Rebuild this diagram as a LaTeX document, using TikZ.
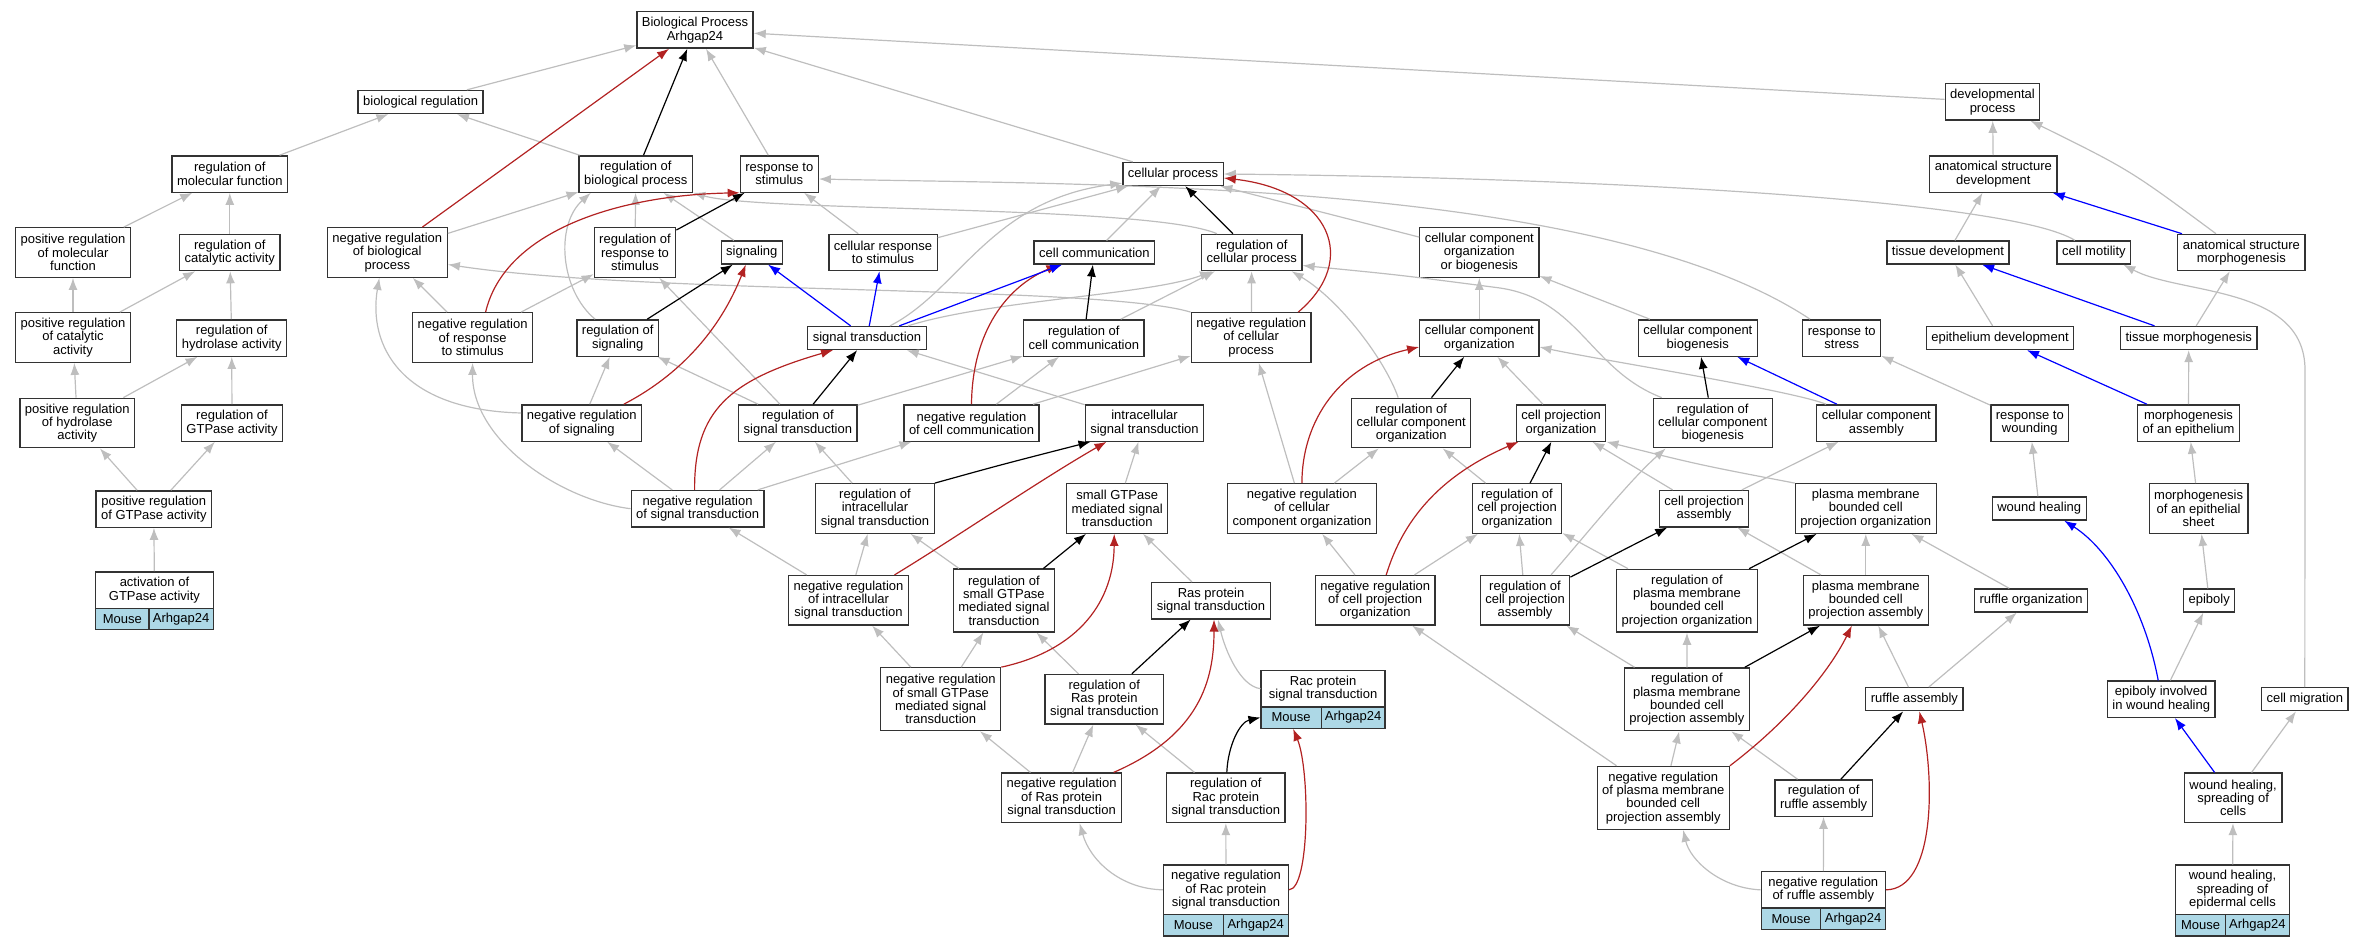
\documentclass[tikz,border=0pt]{standalone}
\usepackage{fontspec}
\setmainfont{Liberation Sans}
\usetikzlibrary{arrows.meta}
\definecolor{isagray}{RGB}{190,190,190}
\definecolor{negred}{RGB}{178,34,34}
\definecolor{partblue}{RGB}{0,0,255}
\definecolor{genefill}{RGB}{173,216,230}

\begin{document}
\begin{tikzpicture}[x=1pt, y=-1pt,
  term/.style={draw=black!80, line width=1.3pt, fill=white, align=center, inner xsep=5pt, inner ysep=0pt, font=\fontsize{13}{13.3}\selectfont},
  box1/.style={term, minimum height=23pt},
  box2/.style={term, minimum height=36.3pt},
  box3/.style={term, minimum height=49.5pt},
  box4/.style={term, minimum height=62.8pt},
  gene/.style={term, fill=genefill, minimum height=21.3pt, inner xsep=0pt},
  isa/.style={draw=isagray, line width=1.2pt, -{Latex[length=12pt,width=9pt]}},
  reg/.style={isa, draw=black},
  negreg/.style={isa, draw=negred},
  partof/.style={isa, draw=partblue}]
  \useasboundingbox (0,0) rectangle (2363,947);

  \node[box2] (root) at (695,30) {Biological Process\\Arhgap24};
  \node[box1] (bioreg) at (420.6,102) {biological regulation};
  \node[box2] (devproc) at (1992.5,102) {developmental\\process};

  \node[box2] (regmol) at (229.8,174) {regulation of\\molecular function};
  \node[box2] (regbio) at (635.8,174) {regulation of\\biological process};
  \node[box2] (respstim) at (779.3,174) {response to\\stimulus};
  \node[box1] (cellproc) at (1173,174) {cellular process};
  \node[box2] (asdev) at (1993.3,174) {anatomical structure\\development};

  \node[box3] (posmol) at (73,252.5) {positive regulation\\of molecular\\function};
  \node[box2] (regcat) at (229.8,252.5) {regulation of\\catalytic activity};
  \node[box3] (negbio) at (387.3,252.5) {negative regulation\\of biological\\process};
  \node[box3] (regresp) at (635,252.5) {regulation of\\response to\\stimulus};
  \node[box1] (signaling) at (751.8,252.5) {signaling};
  \node[box2] (cellresp) at (883,252.5) {cellular response\\to stimulus};
  \node[box1] (cellcomm) at (1094.4,252.5) {cell communication};
  \node[box2] (regcell) at (1251.8,252.5) {regulation of\\cellular process};
  \node[box3] (ccob) at (1479.3,252.5) {cellular component\\organization\\or biogenesis};
  \node[box1] (tissdev) at (1947.9,252.5) {tissue development};
  \node[box1] (cellmot) at (2093.9,252.5) {cell motility};
  \node[box2] (asmorph) at (2241.3,252.5) {anatomical structure\\morphogenesis};

  \node[box3] (poscat) at (73,337.5) {positive regulation\\of catalytic\\activity};
  \node[box2] (reghyd) at (231.7,338) {regulation of\\hydrolase activity};
  \node[box3] (negresp) at (472.6,337.5) {negative regulation\\of response\\to stimulus};
  \node[box2] (regsig) at (617.7,338) {regulation of\\signaling};
  \node[box1] (sigtrans) at (867,338) {signal transduction};
  \node[box2] (regcomm) at (1083.8,338) {regulation of\\cell communication};
  \node[box3] (negcell) at (1251.2,337.5) {negative regulation\\of cellular\\process};
  \node[box2] (cco) at (1479.3,338) {cellular component\\organization};
  \node[box2] (ccb) at (1697.8,338) {cellular component\\biogenesis};
  \node[box2] (respstress) at (1841.7,338) {response to\\stress};
  \node[box1] (epidev) at (2000,338) {epithelium development};
  \node[box1] (tissmorph) at (2188.7,338) {tissue morphogenesis};

  \node[box3] (poshyd) at (77.3,423) {positive regulation\\of hydrolase\\activity};
  \node[box2] (reggtp) at (232,423) {regulation of\\GTPase activity};
  \node[box2] (negsig) at (581.8,423) {negative regulation\\of signaling};
  \node[box2] (regst) at (797.9,423) {regulation of\\signal transduction};
  \node[box2] (negcomm) at (971.5,423) {negative regulation\\of cell communication};
  \node[box2] (intra) at (1144.5,423) {intracellular\\signal transduction};
  \node[box3] (regcco) at (1411.2,423) {regulation of\\cellular component\\organization};
  \node[box2] (cpo) at (1561,423) {cell projection\\organization};
  \node[box3] (regccb) at (1712.7,423) {regulation of\\cellular component\\biogenesis};
  \node[box2] (ccasm) at (1876.3,423) {cellular component\\assembly};
  \node[box2] (respwound) at (2029.8,423) {response to\\wounding};
  \node[box2] (morphepi) at (2188.5,423) {morphogenesis\\of an epithelium};

  \node[box2] (posgtp) at (153.8,509) {positive regulation\\of GTPase activity};
  \node[box2] (negst) at (697.6,508.7) {negative regulation\\of signal transduction};
  \node[box3] (regintra) at (875,508.5) {regulation of\\intracellular\\signal transduction};
  \node[box3] (smallgtp) at (1117.2,508.5) {small GTPase\\mediated signal\\transduction};
  \node[box3] (negcco) at (1301.9,508.5) {negative regulation\\of cellular\\component organization};
  \node[box3] (regcpo) at (1517,508.5) {regulation of\\cell projection\\organization};
  \node[box2] (cpa) at (1704,508.7) {cell projection\\assembly};
  \node[box3] (pmbcpo) at (1865.8,508.5) {plasma membrane\\bounded cell\\projection organization};
  \node[box1] (woundheal) at (2039.2,508.5) {wound healing};
  \node[box3] (morphsheet) at (2198.6,508.5) {morphogenesis\\of an epithelial\\sheet};

  \node[box2, minimum width=117.5pt] (actgtp) at (154.45,590) {activation of\\GTPase activity};
  \node[gene, minimum width=53.2pt] (actgtpM) at (122.3,618.8) {Mouse};
  \node[gene, minimum width=64.3pt] (actgtpG) at (181.05,618.8) {Arhgap24};
  \node[box3] (negintra) at (848.5,600.3) {negative regulation\\of intracellular\\signal transduction};
  \node[box4] (regsmall) at (1003.9,600.5) {regulation of\\small GTPase\\mediated signal\\transduction};
  \node[box2] (rasst) at (1211,600.7) {Ras protein\\signal transduction};
  \node[box3] (negcpo) at (1375.2,600.3) {negative regulation\\of cell projection\\organization};
  \node[box3] (regcpa) at (1525,600.3) {regulation of\\cell projection\\assembly};
  \node[box4] (regpmbcpo) at (1687,600.7) {regulation of\\plasma membrane\\bounded cell\\projection organization};
  \node[box3] (pmbcpa) at (1865.8,600.3) {plasma membrane\\bounded cell\\projection assembly};
  \node[box1] (ruforg) at (2031.1,600.5) {ruffle organization};
  \node[box1] (epiboly) at (2209.2,600.5) {epiboly};

  \node[box4] (negsmall) at (940.7,699.2) {negative regulation\\of small GTPase\\mediated signal\\transduction};
  \node[box3] (regras) at (1104.3,699.2) {regulation of\\Ras protein\\signal transduction};
  \node[box2, minimum width=124pt] (racst) at (1323.1,688.7) {Rac protein\\signal transduction};
  \node[gene, minimum width=60.1pt] (racstM) at (1291.15,717.5) {Mouse};
  \node[gene, minimum width=63.9pt] (racstG) at (1353.15,717.5) {Arhgap24};
  \node[box4] (regpmbcpa) at (1686.9,699.3) {regulation of\\plasma membrane\\bounded cell\\projection assembly};
  \node[box1] (rufasm) at (1914.4,699.2) {ruffle assembly};
  \node[box2] (epiwound) at (2161.2,699.2) {epiboly involved\\in wound healing};
  \node[box1] (cellmig) at (2304.8,699.2) {cell migration};

  \node[box3] (negras) at (1061.6,797.8) {negative regulation\\of Ras protein\\signal transduction};
  \node[box3] (regrac) at (1225.8,797.8) {regulation of\\Rac protein\\signal transduction};
  \node[box4] (negpmbcpa) at (1663.2,797.8) {negative regulation\\of plasma membrane\\bounded cell\\projection assembly};
  \node[box2] (regruf) at (1823.6,798) {regulation of\\ruffle assembly};
  \node[box3] (whsc) at (2233.1,797.8) {wound healing,\\spreading of\\cells};

  \node[box3, minimum width=124.7pt] (negrac) at (1225.95,889.8) {negative regulation\\of Rac protein\\signal transduction};
  \node[gene, minimum width=59.6pt] (negracM) at (1193.4,925.2) {Mouse};
  \node[gene, minimum width=65.1pt] (negracG) at (1255.75,925.2) {Arhgap24};
  \node[box2, minimum width=124.2pt] (negruf) at (1823.3,889.85) {negative regulation\\of ruffle assembly};
  \node[gene, minimum width=59.6pt] (negrufM) at (1791,918.65) {Mouse};
  \node[gene, minimum width=64.6pt] (negrufG) at (1853.1,918.65) {Arhgap24};
  \node[box3, minimum width=113.4pt] (whsec) at (2232.5,889.8) {wound healing,\\spreading of\\epidermal cells};
  \node[gene, minimum width=49.6pt] (whsecM) at (2200.6,925.2) {Mouse};
  \node[gene, minimum width=63.8pt] (whsecG) at (2257.3,925.2) {Arhgap24};

  \draw[isa] (bioreg) -- (root);
  \draw[isa] (devproc) -- (root);
  \draw[isa] (respstim) -- (root);
  \draw[isa] (cellproc) -- (root);
  \draw[isa] (regmol) -- (bioreg);
  \draw[isa] (regbio) -- (bioreg);
  \draw[isa] (asdev) -- (devproc);
  \draw[isa] (asmorph) .. controls (2130,170) .. (devproc);
  \draw[isa] (posmol) -- (regmol);
  \draw[isa] (regcat) -- (regmol);
  \draw[isa] (negbio) -- (regbio);
  \draw[isa] (regresp) -- (regbio);
  \draw[isa] (regsig) .. controls (560,290) and (555,225) .. ([xshift=-45pt]regbio.south);
  \draw[isa] (signaling) -- (regbio);
  \draw[isa] ([xshift=16pt]regcell.north west) .. controls (1150,205) and (760,212) .. (regbio.south east);
  \draw[isa] (cellresp) -- (respstim);
  \draw[isa] ([xshift=8pt]respstress.north west) .. controls (1600,180) and (1100,185) .. ([yshift=-5pt]respstim.east);
  \draw[isa] ([xshift=23pt]sigtrans.north) .. controls (960,290) and (990,200) .. ([yshift=3pt]cellproc.south west);
  \draw[isa] (cellresp) -- (cellproc);
  \draw[isa] (cellcomm) -- (cellproc);
  \draw[isa] (ccob) -- (cellproc);
  \draw[isa] ([xshift=-19pt]cellmot.north) .. controls (2010,200) and (1600,178) .. (cellproc.east);
  \draw[isa] (tissdev) -- (asdev);
  \draw[isa] (poscat) -- (posmol);
  \draw[isa] (poscat) -- (regcat);
  \draw[isa] (reghyd) -- (regcat);
  \draw[isa] (negresp) -- (negbio);
  \draw[isa] ([yshift=10pt]negsig.west) .. controls (400,410) and (368,345) .. ([xshift=-8pt]negbio.south);
  \draw[isa] (negcell.north west) .. controls (1100,285) and (650,295) .. ([yshift=-12pt]negbio.east);
  \draw[isa] (negresp) -- (regresp);
  \draw[isa] (regst) -- (regresp);
  \draw[isa] (negcell) -- (regcell);
  \draw[isa] (regcomm) -- (regcell);
  \draw[isa] ([xshift=41pt]sigtrans.north) .. controls (990,300) and (1150,295) .. ([xshift=11pt]regcell.south west);
  \draw[isa] ([xshift=-13pt]regcco.north) .. controls (1385,360) and (1340,300) .. ([xshift=-11pt]regcell.south east);
  \draw[isa] ([xshift=-51pt]regccb.north) .. controls (1590,370) and (1580,300) .. (1500,288) .. controls (1400,275) .. ([yshift=-13pt]regcell.east);
  \draw[isa] (cco) -- (ccob);
  \draw[isa] (ccb) -- (ccob);
  \draw[isa] (epidev) -- (tissdev);
  \draw[isa] (cellmig.north) -- (2305,370) .. controls (2305,285) and (2180,295) .. ([xshift=-8pt]cellmot.south east);
  \draw[isa] (tissmorph) -- (asmorph);
  \draw[isa] (poshyd) -- (poscat);
  \draw[isa] (poshyd) -- (reghyd);
  \draw[isa] (reggtp) -- (reghyd);
  \draw[isa] (negst.west) .. controls (560,500) and (472,440) .. (negresp.south);
  \draw[isa] (negsig) -- (regsig);
  \draw[isa] (regst) -- (regsig);
  \draw[isa] (intra) -- (sigtrans);
  \draw[isa] (regst) -- (regcomm);
  \draw[isa] (negcomm) -- (regcomm);
  \draw[isa] (negcomm) -- (negcell);
  \draw[isa] (negcco) -- (negcell);
  \draw[isa] (cpo) -- (cco);
  \draw[isa] ([xshift=10pt]ccasm.north west) .. controls (1790,390) and (1600,360) .. ([yshift=-9pt]cco.east);
  \draw[isa] (respwound) -- (respstress);
  \draw[isa] (morphepi) -- (tissmorph);
  \draw[isa] (posgtp) -- (poshyd);
  \draw[isa] (posgtp) -- (reggtp);
  \draw[isa] (negst) -- (negsig);
  \draw[isa] (negst) -- (regst);
  \draw[isa] (negst) -- (negcomm);
  \draw[isa] (regintra) -- (regst);
  \draw[isa] (smallgtp) -- (intra);
  \draw[isa] (negcco) -- (regcco);
  \draw[isa] (regcpo) -- (regcco);
  \draw[isa] (cpa) -- (cpo);
  \draw[isa] (pmbcpo.north west) .. controls (1700,465) .. (cpo.south east);
  \draw[isa] ([xshift=26pt]regcpa.north) .. controls (1590,530) and (1630,480) .. ([xshift=-47pt]regccb.south);
  \draw[isa] (cpa) -- (ccasm);
  \draw[isa] (woundheal) -- (respwound);
  \draw[isa] (morphsheet) -- (morphepi);
  \draw[isa] (actgtp) -- (posgtp);
  \draw[isa] (negintra) -- (negst);
  \draw[isa] (negintra) -- (regintra);
  \draw[isa] (regsmall) -- (regintra);
  \draw[isa] (rasst) -- (smallgtp);
  \draw[isa] (negcpo) -- (negcco);
  \draw[isa] (negcpo) -- (regcpo);
  \draw[isa] (regcpa) -- (regcpo);
  \draw[isa] (regpmbcpo) -- (regcpo);
  \draw[isa] (pmbcpa) -- (cpa);
  \draw[isa] (pmbcpa) -- (pmbcpo);
  \draw[isa] (ruforg) -- (pmbcpo);
  \draw[isa] (epiboly) -- (morphsheet);
  \draw[isa] (negsmall) -- (negintra);
  \draw[isa] (negsmall) -- (regsmall);
  \draw[isa] (regras) -- (regsmall);
  \draw[isa] (racst.west) .. controls (1240,686) and (1225,650) .. ([xshift=7pt]rasst.south);
  \draw[isa] (negpmbcpa) -- (negcpo);
  \draw[isa] (regpmbcpa) -- (regcpa);
  \draw[isa] (regpmbcpa) -- (regpmbcpo);
  \draw[isa] (rufasm) -- (pmbcpa);
  \draw[isa] (rufasm) -- (ruforg);
  \draw[isa] (epiwound) -- (epiboly);
  \draw[isa] (negras) -- (negsmall);
  \draw[isa] (negras) -- (regras);
  \draw[isa] (regrac) -- (regras);
  \draw[isa] (negpmbcpa) -- (regpmbcpa);
  \draw[isa] (regruf) -- (regpmbcpa);
  \draw[isa] (whsc) -- (cellmig);
  \draw[isa] (negrac.west) .. controls (1120,889) and (1090,860) .. ([xshift=18pt]negras.south);
  \draw[isa] (negrac) -- (regrac);
  \draw[isa] (negruf.west) .. controls (1720,888) and (1690,860) .. ([xshift=20pt]negpmbcpa.south);
  \draw[isa] (negruf) -- (regruf);
  \draw[isa] (whsec) -- (whsc);

  \draw[reg] (regbio) -- (root);
  \draw[reg] (regresp) -- (respstim);
  \draw[reg] (regcell) -- (cellproc);
  \draw[reg] (regsig) -- (signaling);
  \draw[reg] (regcomm) -- (cellcomm);
  \draw[reg] (regst) -- (sigtrans);
  \draw[reg] (regcco) -- (cco);
  \draw[reg] (regccb) -- (ccb);
  \draw[reg] (regintra.north east) .. controls (1000,465) .. ([xshift=-54pt]intra.south);
  \draw[reg] (regcpo) -- (cpo);
  \draw[reg] (regsmall) -- (smallgtp);
  \draw[reg] (regcpa) -- (cpa);
  \draw[reg] (regpmbcpo) -- (pmbcpo);
  \draw[reg] (regras) -- (rasst);
  \draw[reg] (regpmbcpa) -- (pmbcpa);
  \draw[reg] ([xshift=1pt]regrac.north) .. controls (1228,745) and (1240,722) .. (racstM.west);
  \draw[reg] (regruf) -- (rufasm);

  \draw[negreg] (negbio) -- (root);
  \draw[negreg] ([xshift=13pt]negresp.north) .. controls (505,230) and (620,195) .. (respstim.south west);
  \draw[negreg] ([xshift=47pt]negcell.north) .. controls (1360,260) and (1330,190) .. ([yshift=-4pt]cellproc.east);
  \draw[negreg] ([xshift=42pt]negsig.north) .. controls (680,375) and (720,330) .. ([xshift=-6pt]signaling.south);
  \draw[negreg] (negcomm.north) .. controls (972,340) and (1000,290) .. ([xshift=-36pt]cellcomm.south);
  \draw[negreg] ([xshift=-3pt]negst.north) .. controls (694,410) and (730,380) .. ([xshift=-34pt]sigtrans.south);
  \draw[negreg] (negcco.north) .. controls (1302,420) and (1340,365) .. ([yshift=-9pt]cco.west);
  \draw[negreg] ([xshift=46pt]negintra.north) .. controls (960,535) and (1040,480) .. ([xshift=-38pt]intra.south);
  \draw[negreg] ([xshift=11pt]negcpo.north) .. controls (1400,530) and (1430,480) .. ([xshift=3pt]cpo.south west);
  \draw[negreg] (negsmall.north east) .. controls (1080,650) and (1114,600) .. ([xshift=-3pt]smallgtp.south);
  \draw[negreg] ([xshift=52pt]negras.north) .. controls (1200,735) and (1214,680) .. ([xshift=3pt]rasst.south);
  \draw[negreg] (negpmbcpa.north east) .. controls (1790,720) and (1830,670) .. ([xshift=-14pt]pmbcpa.south);
  \draw[negreg] (negrac.east) .. controls (1310,889) and (1310,770) .. ([xshift=2pt]racstM.south);
  \draw[negreg] (negruf.east) .. controls (1935,889) and (1935,780) .. ([xshift=5pt]rufasm.south);

  \draw[partof] (asmorph) -- (asdev);
  \draw[partof] (sigtrans) -- (signaling);
  \draw[partof] (sigtrans) -- (cellresp);
  \draw[partof] (sigtrans) -- (cellcomm);
  \draw[partof] (tissmorph) -- (tissdev);
  \draw[partof] (ccasm) -- (ccb);
  \draw[partof] (morphepi) -- (epidev);
  \draw[partof] ([xshift=-3pt]epiwound.north) .. controls (2145,610) and (2110,550) .. ([xshift=25pt]woundheal.south);
  \draw[partof] (whsc) -- (epiwound);
\end{tikzpicture}
\end{document}
